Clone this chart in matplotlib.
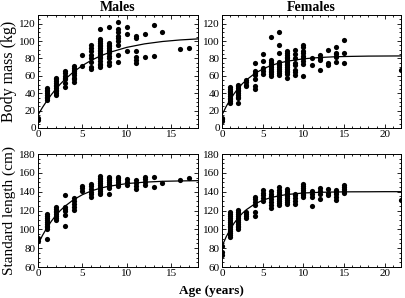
import numpy as np
import matplotlib
matplotlib.use("Agg")
from matplotlib import pyplot as plt
from matplotlib.ticker import MultipleLocator

plt.rcParams['font.family'] = ['Liberation Serif', 'DejaVu Serif']

# scatter data, age -> values
male_mass = {
	0: [9, 12],
	1: [32, 34, 36, 38, 40, 42, 44, 46],
	2: [38, 40, 42, 44, 46, 48, 50, 52, 54, 56, 58],
	3: [47, 52, 56, 58, 60, 63, 66],
	4: [53, 56, 58, 61, 63, 65, 67, 69, 71],
	5: [71, 84],
	6: [68, 70, 76, 80, 84, 88, 92, 96],
	7: [70, 72, 74, 77, 80, 82, 84, 86, 88, 90, 92, 94, 96, 98, 100, 102, 114],
	8: [73, 76, 80, 83, 86, 88, 90, 92, 94, 96, 98, 116],
	9: [76, 84, 96, 100, 104, 106, 110, 114, 122],
	10: [89, 108, 116],
	11: [75, 78, 82, 88, 104, 106],
	12: [82, 108],
	13: [83, 118],
	14: [111],
	16: [91],
	17: [92],
}
female_mass = {
	0: [8, 10, 12],
	1: [29, 31, 33, 35, 37, 39, 41, 43, 45, 47],
	2: [29, 34, 36, 38, 40, 42, 44, 46, 48, 50],
	3: [48, 50, 53, 55],
	4: [45, 48, 56, 61, 63, 65, 75],
	5: [62, 65, 69, 77, 85],
	6: [60, 62, 64, 66, 68, 70, 72, 74, 76, 78, 105],
	7: [61, 63, 66, 68, 70, 72, 74, 76, 86, 96, 111],
	8: [58, 62, 64, 66, 68, 70, 72, 74, 76, 78, 80, 82, 84, 86, 88],
	9: [61, 64, 67, 73, 75, 80, 85, 90],
	10: [60, 74, 77, 80, 83, 86, 88, 93, 95],
	11: [73, 80],
	12: [67, 78, 80, 84],
	13: [73, 75, 90],
	14: [76, 82, 85, 86, 93],
	15: [75, 86, 101],
	22: [67],
}
male_length = {
	0: [88, 91],
	1: [90, 100, 102, 104, 106, 108, 110, 112, 114, 116],
	2: [110, 112, 114, 116, 118, 120, 122, 124],
	3: [104, 115, 119, 122, 124, 136],
	4: [121, 124, 127, 130, 133],
	5: [141, 144, 146],
	6: [134, 137, 140, 143, 146, 148],
	7: [137, 139, 141, 143, 145, 147, 149, 151, 153, 155, 157],
	8: [137, 144, 146, 148, 150, 152, 154, 156],
	9: [146, 148, 150, 152, 154, 156],
	10: [147, 150, 153],
	11: [143, 146, 149, 152],
	12: [147, 150, 153, 156],
	13: [145, 156],
	14: [149],
	16: [152],
	17: [154],
}
female_length = {
	0: [73, 76, 82],
	1: [92, 94, 96, 98, 100, 102, 104, 106, 108, 110, 112, 114, 116, 118],
	2: [100, 102, 104, 106, 108, 110, 112, 114, 116, 118, 121],
	3: [112, 114, 116, 118],
	4: [114, 118, 126, 129, 132, 134],
	5: [130, 133, 136, 139, 142],
	6: [123, 126, 129, 132, 135, 138, 141],
	7: [126, 128, 130, 132, 134, 136, 138, 140, 142, 145],
	8: [127, 129, 131, 133, 135, 137, 139, 141, 143],
	9: [127, 130, 133, 136, 138],
	10: [134, 136, 138, 140, 142, 144, 146, 148],
	11: [125, 134, 138, 141],
	12: [132, 137, 141, 144],
	13: [136, 139, 143],
	14: [131, 134, 137, 140, 142],
	15: [139, 141, 143, 145, 147],
	22: [131],
}

# growth curves
curve_age = [0, 0.5, 1, 1.5, 2, 2.5, 3, 4, 5, 6, 7, 8, 10, 12, 14, 16, 18, 20, 22]
male_mass_fit = [15, 23.6, 31.3, 38.3, 44.7, 50.4, 55.6, 64.6, 71.9, 77.9, 82.8, 86.8, 92.8, 96.8, 99.5, 101.3, 102.5, 103.3, 103.8]
female_mass_fit = [15, 24.5, 32.6, 39.6, 45.7, 50.9, 55.3, 62.5, 67.8, 71.8, 74.7, 76.8, 79.6, 81.1, 82.0, 82.4, 82.7, 82.8, 82.9]
male_length_fit = [84, 93.5, 101.6, 108.6, 114.7, 119.9, 124.3, 131.5, 136.8, 140.8, 143.7, 145.8, 148.6, 150.1, 151.0, 151.4, 151.7, 151.8, 151.9]
female_length_fit = [82, 91.8, 99.9, 106.7, 112.3, 117.0, 120.9, 126.8, 130.9, 133.7, 135.6, 137.0, 138.6, 139.3, 139.7, 139.85, 139.9, 140, 140]

fig = plt.figure(figsize=(4.06, 2.98), dpi=100)
L1, R1, L2, R2 = 0.0936, 0.4877, 0.5468, 0.9877
T1, B1, T2, B2 = 0.9497, 0.5705, 0.4832, 0.1040

ax_mm = fig.add_axes([L1, B1, R1 - L1, T1 - B1])
ax_fm = fig.add_axes([L2, B1, R2 - L2, T1 - B1])
ax_ml = fig.add_axes([L1, B2, R1 - L1, T2 - B2])
ax_fl = fig.add_axes([L2, B2, R2 - L2, T2 - B2])

def draw(ax, data, fit, xmax, ylim, ystep):
	xs = [a for a, v in data.items() for _ in v]
	ys = [y for v in data.values() for y in v]
	ax.scatter(xs, ys, s=14, color='black', linewidths=0, zorder=3)
	ax.plot(curve_age, fit, color='black', lw=0.9, zorder=2)
	ax.set_xlim(0, xmax)
	ax.set_ylim(*ylim)
	ax.xaxis.set_major_locator(MultipleLocator(5))
	ax.xaxis.set_minor_locator(MultipleLocator(1))
	ax.yaxis.set_major_locator(MultipleLocator(ystep))
	ax.yaxis.set_minor_locator(MultipleLocator(ystep / 4))
	ax.tick_params(which='both', direction='in', top=True, right=True,
				   labelsize=8, pad=1.5, width=0.6)
	ax.tick_params(which='major', length=3)
	ax.tick_params(which='minor', length=1.5)
	for sp in ax.spines.values():
		sp.set_linewidth(0.7)

draw(ax_mm, male_mass, male_mass_fit, 18, (0, 130), 20)
draw(ax_fm, female_mass, female_mass_fit, 22, (0, 130), 20)
draw(ax_ml, male_length, male_length_fit, 18, (60, 180), 20)
draw(ax_fl, female_length, female_length_fit, 22, (60, 180), 20)

ax_mm.set_title("Males", fontsize=10, fontweight='bold', pad=3)
ax_fm.set_title("Females", fontsize=10, fontweight='bold', pad=3)
ax_mm.set_ylabel("Body mass (kg)", fontsize=11.5, labelpad=2)
ax_ml.set_ylabel("Standard length (cm)", fontsize=11, labelpad=2)
fig.text(0.522, 0.025, "Age (years)", fontsize=9.5, fontweight='bold', ha='center', va='center')

fig.savefig("out.png", dpi=100)
